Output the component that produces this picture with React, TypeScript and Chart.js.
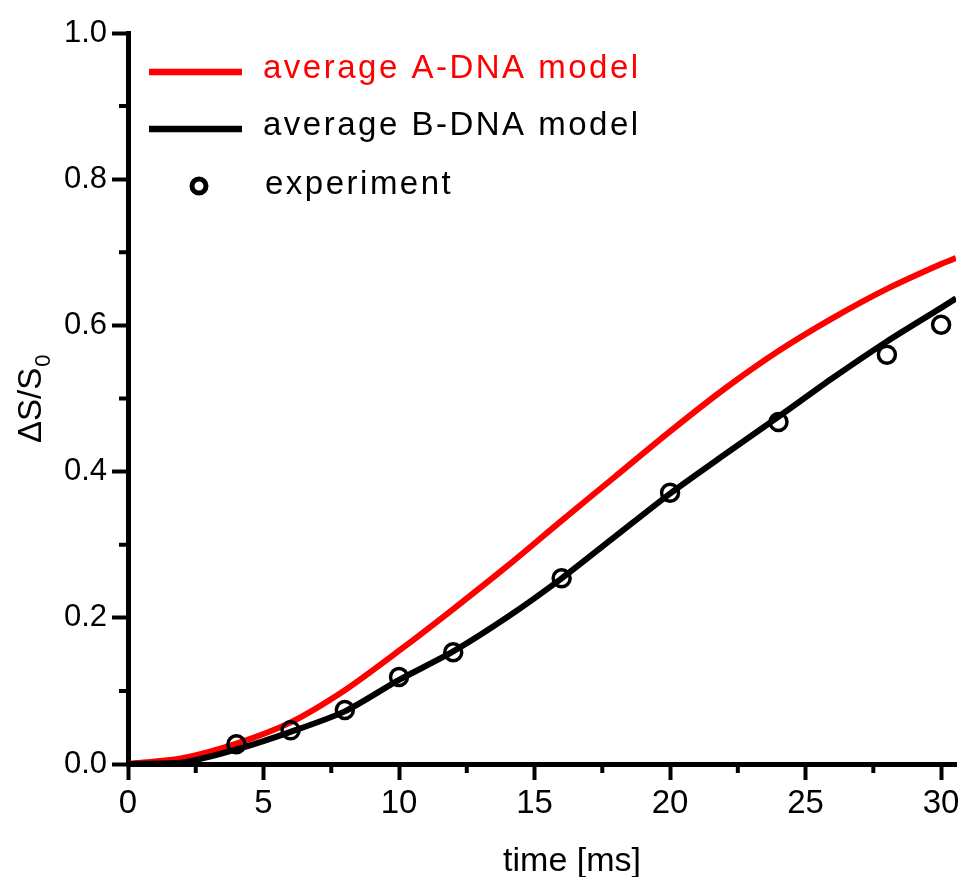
import React, { useEffect, useRef } from "react";
import { Chart, registerables } from "chart.js";

Chart.register(...registerables);

// Model curves sampled every 2 ms (last sample at the right edge of the axis)
const modelTime = [0, 2, 4, 6, 8, 10, 12, 14, 16, 18, 20, 22, 24, 26, 28, 30, 30.55];
const aDnaModel = [0, 0.008, 0.028, 0.057, 0.101, 0.155, 0.212, 0.271, 0.333, 0.394, 0.455, 0.513, 0.565, 0.61, 0.65, 0.684, 0.692];
const bDnaModel = [0, 0.002, 0.02, 0.044, 0.072, 0.115, 0.154, 0.201, 0.254, 0.312, 0.37, 0.423, 0.475, 0.528, 0.578, 0.624, 0.637];

// Measured points
const expTime = [4, 6, 8, 10, 12, 16, 20, 24, 28, 30];
const expValue = [0.027, 0.046, 0.074, 0.119, 0.153, 0.254, 0.371, 0.468, 0.56, 0.601];

const xTicks = [0, 5, 10, 15, 20, 25, 30];
const xMinorTicks = [2.5, 7.5, 12.5, 17.5, 22.5, 27.5];
const yTicks = [0, 0.2, 0.4, 0.6, 0.8, 1.0];
const yMinorTicks = [0.1, 0.3, 0.5, 0.7, 0.9];

const legendLabels = ["average A-DNA model", "average B-DNA model", "experiment"];
const xTitle = "time [ms]";
const yTitleMain = "\u0394S/S";
const yTitleSub = "0";

const FONT = 'Arial, "Liberation Sans", sans-serif';
const RED = "#ff0000";
const BLACK = "#000000";

const toPoints = (xs: number[], ys: number[]) => xs.map((x, i) => ({ x, y: ys[i] }));

const decorPlugin = {
  id: "decor",
  afterDraw(chart: any) {
    const { ctx, chartArea, scales } = chart;
    const xs = scales.x;
    const ys = scales.y;
    ctx.save();

    // minor tick marks
    ctx.strokeStyle = BLACK;
    ctx.lineWidth = 4;
    ctx.lineCap = "butt";
    ctx.beginPath();
    for (const v of yMinorTicks) {
      const py = ys.getPixelForValue(v);
      ctx.moveTo(chartArea.left - 9, py);
      ctx.lineTo(chartArea.left, py);
    }
    for (const v of xMinorTicks) {
      const px = xs.getPixelForValue(v);
      ctx.moveTo(px, chartArea.bottom);
      ctx.lineTo(px, chartArea.bottom + 9);
    }
    ctx.stroke();

    // x axis title
    ctx.fillStyle = BLACK;
    ctx.font = `34px ${FONT}`;
    ctx.textAlign = "center";
    ctx.textBaseline = "alphabetic";
    ctx.fillText(xTitle, 572, 871);

    // y axis title with subscript
    ctx.save();
    ctx.translate(41, 443);
    ctx.rotate(-Math.PI / 2);
    ctx.textAlign = "left";
    ctx.font = `33px ${FONT}`;
    ctx.fillText(yTitleMain, 0, 0);
    const w = ctx.measureText(yTitleMain).width;
    ctx.font = `22px ${FONT}`;
    ctx.fillText(yTitleSub, w + 1, 9);
    ctx.restore();

    // legend
    ctx.font = `33px ${FONT}`;
    ctx.textAlign = "left";
    (ctx as any).letterSpacing = "2.5px";
    ctx.lineWidth = 6.5;
    ctx.strokeStyle = RED;
    ctx.beginPath();
    ctx.moveTo(149, 72);
    ctx.lineTo(242, 72);
    ctx.stroke();
    ctx.fillStyle = RED;
    ctx.fillText(legendLabels[0], 263, 78);

    ctx.strokeStyle = BLACK;
    ctx.beginPath();
    ctx.moveTo(149, 129);
    ctx.lineTo(242, 129);
    ctx.stroke();
    ctx.fillStyle = BLACK;
    ctx.fillText(legendLabels[1], 263, 135);

    ctx.lineWidth = 5;
    ctx.beginPath();
    ctx.arc(199, 186, 7, 0, Math.PI * 2);
    ctx.stroke();
    ctx.fillText(legendLabels[2], 265, 194);
    (ctx as any).letterSpacing = "0px";

    ctx.restore();
  },
};

export default function App() {
  const canvasRef = useRef<HTMLCanvasElement | null>(null);

  useEffect(() => {
    if (!canvasRef.current) return;
    const chart = new Chart(canvasRef.current, {
      type: "line",
      data: {
        datasets: [
          {
            label: legendLabels[2],
            data: toPoints(expTime, expValue),
            showLine: false,
            pointStyle: "circle",
            pointRadius: 8.5,
            pointBorderWidth: 3.5,
            pointBorderColor: BLACK,
            pointBackgroundColor: "rgba(0,0,0,0)",
            order: 0,
          },
          {
            label: legendLabels[1],
            data: toPoints(modelTime, bDnaModel),
            borderColor: BLACK,
            borderWidth: 6,
            pointRadius: 0,
            tension: 0.25,
            fill: false,
            order: 1,
          },
          {
            label: legendLabels[0],
            data: toPoints(modelTime, aDnaModel),
            borderColor: RED,
            borderWidth: 6,
            pointRadius: 0,
            tension: 0.25,
            fill: false,
            order: 2,
          },
        ],
      },
      options: {
        animation: false,
        responsive: true,
        maintainAspectRatio: false,
        layout: { padding: { top: 33, right: 10, left: 0, bottom: 0 } },
        plugins: { legend: { display: false }, tooltip: { enabled: false } },
        scales: {
          x: {
            type: "linear",
            min: 0,
            max: 30.55,
            afterFit: (s: any) => {
              s.height = 113;
            },
            afterBuildTicks: (s: any) => {
              s.ticks = xTicks.map((v) => ({ value: v }));
            },
            ticks: {
              includeBounds: false,
              color: BLACK,
              font: { family: FONT, size: 33 },
              padding: 4,
              maxRotation: 0,
              callback: (v: any) => String(v),
            },
            grid: {
              drawOnChartArea: false,
              drawTicks: true,
              tickLength: 16,
              tickWidth: 4,
              tickColor: BLACK,
            },
            border: { display: true, color: BLACK, width: 5 },
          },
          y: {
            type: "linear",
            min: 0,
            max: 1,
            afterFit: (s: any) => {
              s.width = 128;
            },
            afterBuildTicks: (s: any) => {
              s.ticks = yTicks.map((v) => ({ value: v }));
            },
            ticks: {
              color: BLACK,
              font: { family: FONT, size: 31 },
              padding: 5,
              callback: (v: any) => Number(v).toFixed(1),
            },
            grid: {
              drawOnChartArea: false,
              drawTicks: true,
              tickLength: 16,
              tickWidth: 4,
              tickColor: BLACK,
            },
            border: { display: true, color: BLACK, width: 5 },
          },
        },
      },
      plugins: [decorPlugin],
    });
    return () => chart.destroy();
  }, []);

  return (
    <div style={{ position: "absolute", left: 0, top: 0, width: 968, height: 877, background: "#ffffff" }}>
      <canvas ref={canvasRef} />
    </div>
  );
}
